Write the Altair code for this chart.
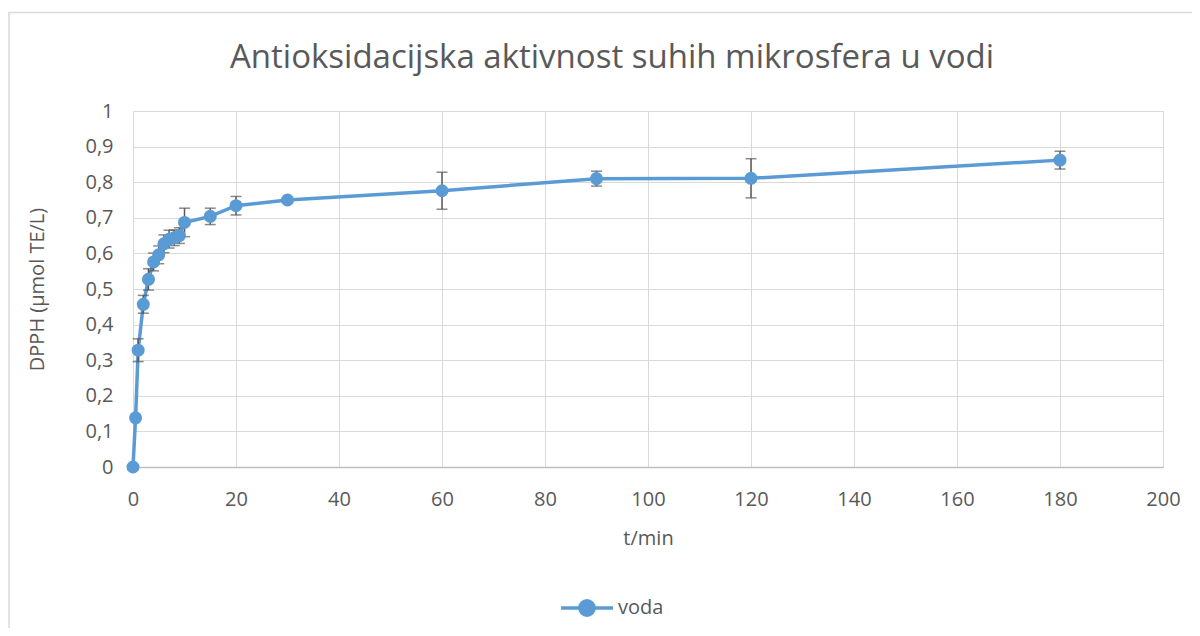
import altair as alt
import pandas as pd

t_min = [0, 0.5, 1, 2, 3, 4, 5, 6, 7, 8, 9, 10, 15, 20, 30, 60, 90, 120, 180]
dpph = [0.0, 0.138, 0.328, 0.457, 0.527, 0.576, 0.596, 0.627, 0.640, 0.644, 0.650,
        0.687, 0.704, 0.734, 0.750, 0.776, 0.810, 0.811, 0.862]
err = [0.0, 0.0, 0.032, 0.025, 0.03, 0.025, 0.025, 0.025, 0.025, 0.022, 0.022,
       0.04, 0.023, 0.026, 0.005, 0.052, 0.021, 0.055, 0.025]
series = ["voda"] * len(t_min)
y_ticks = [0, 0.1, 0.2, 0.3, 0.4, 0.5, 0.6, 0.7, 0.8, 0.9, 1]
x_ticks = [0, 20, 40, 60, 80, 100, 120, 140, 160, 180, 200]

df = pd.DataFrame({"t": t_min, "y": dpph, "e": err, "s": series})
df["lo"] = df["y"] - df["e"]
df["hi"] = df["y"] + df["e"]

FONT = "Open Sans"
GRAY = "#595959"
BLUE = "#5b9bd5"

x_scale = alt.Scale(domain=[0, 200], nice=False)
y_scale = alt.Scale(domain=[0, 1], nice=False)

x_axis = alt.Axis(values=x_ticks, title="t/min", grid=True,
                  gridColor="#d9d9d9", domainColor="#bfbfbf", domainWidth=1.5, ticks=False,
                  labelFlush=False, labelOverlap=False,
                  labelFont=FONT, labelFontSize=20, labelColor=GRAY, labelPadding=22,
                  titleFont=FONT, titleFontSize=20, titleColor=GRAY, titleFontWeight="normal",
                  titleY=71, titleBaseline="middle")
y_axis = alt.Axis(values=y_ticks, title="DPPH (µmol TE/L)", grid=True,
                  gridColor="#d9d9d9", domain=False, ticks=False, tickCount=11,
                  labelFlush=False, labelOverlap=False,
                  labelExpr="replace(format(datum.value, '.1~f'), '.', ',')",
                  labelFont=FONT, labelFontSize=20, labelColor=GRAY, labelPadding=20,
                  titleFont=FONT, titleFontSize=20, titleColor=GRAY, titleFontWeight="normal",
                  titleX=-96, titleY=178, titleBaseline="middle", titleAngle=-90, titleAlign="center")

X = alt.X("t:Q", scale=x_scale, axis=x_axis, title="t/min")

def Y(field):
    return alt.Y(field, type="quantitative", scale=y_scale, axis=y_axis, title="DPPH (µmol TE/L)")

base = alt.Chart(df)

border = alt.Chart(pd.DataFrame({"a": [0]})).mark_rect(
    fill=None, stroke="#d9d9d9", strokeWidth=1.5
).encode(x=alt.value(-124), x2=alt.value(1100), y=alt.value(-98.5), y2=alt.value(600))

bars = base.mark_rule(color=GRAY, strokeWidth=1.5).encode(x=X, y=Y("lo"), y2="hi:Q")
caps_hi = base.transform_filter("datum.e > 0").mark_tick(
    color=GRAY, thickness=1.5, size=11, orient="horizontal"
).encode(x=X, y=Y("hi"))
caps_lo = base.transform_filter("datum.e > 0").mark_tick(
    color=GRAY, thickness=1.5, size=11, orient="horizontal"
).encode(x=X, y=Y("lo"))

color = alt.Color("s:N", scale=alt.Scale(domain=["voda"], range=[BLUE]),
                  legend=alt.Legend(title=None, orient="none", legendX=439, legendY=482,
                                    symbolType="M-2,0L2,0M0.55,0A0.55,0.55,0,1,1,-0.55,0A0.55,0.55,0,1,1,0.55,0Z",
                                    symbolSize=676, symbolStrokeWidth=3.5, symbolFillColor=BLUE,
                                    symbolStrokeColor=BLUE, symbolOpacity=1,
                                    labelFont=FONT, labelFontSize=20, labelColor=GRAY,
                                    labelOffset=16))

line = base.mark_line(strokeWidth=3.5).encode(x=X, y=Y("y"), color=color)
points = base.mark_point(filled=True, size=170, opacity=1).encode(
    x=X, y=Y("y"),
    color=alt.Color("s:N", scale=alt.Scale(domain=["voda"], range=[BLUE]), legend=None),
)

chart = alt.layer(line, border, bars, caps_hi, caps_lo, points).properties(
    width=1030, height=356,
    title=alt.TitleParams("Antioksidacijska aktivnost suhih mikrosfera u vodi",
                          font=FONT, fontSize=33, color=GRAY, fontWeight="normal",
                          offset=0, dy=63, dx=-36, frame="group", anchor="middle"),
    autosize=alt.AutoSizeParams(type="none"),
    padding={"left": 125, "top": 103, "right": 29, "bottom": 161},
).configure_view(stroke=None).configure(background="white")

chart.save("out.html", embed_options={"renderer": "svg", "actions": False})
